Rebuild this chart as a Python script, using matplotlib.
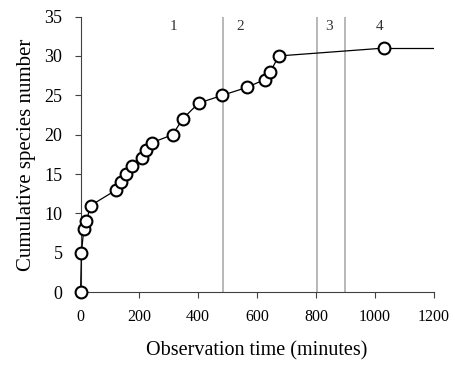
import matplotlib
matplotlib.use("Agg")
import matplotlib.pyplot as plt

# observation time (minutes) vs cumulative species
time_min = [0, 3, 11, 20, 34, 122, 136, 156, 176, 210, 224, 244, 313, 347, 401,
            482, 565, 626, 645, 674, 1033]
species = [0, 5, 8, 9, 11, 13, 14, 15, 16, 17, 18, 19, 20, 22, 24,
           25, 26, 27, 28, 30, 31]
line_end = 1200

# period boundaries and labels
boundaries = [485, 805, 900]
period_labels = ["1", "2", "3", "4"]
period_x = [316, 541, 843, 1017]

plt.rcParams["font.family"] = ["Liberation Serif", "DejaVu Serif"]

fig = plt.figure(figsize=(4.55, 3.68), dpi=100)
ax = fig.add_axes([0.177, 0.206, 0.776, 0.749])

for b in boundaries:
    ax.axvline(b, color="#ababab", lw=1.2, zorder=1)

ax.plot([time_min[-1], line_end], [species[-1], species[-1]], color="black", lw=0.9, zorder=2)
ax.plot(time_min, species, color="black", lw=0.9, marker="o", ms=8.5,
        mfc="white", mec="black", mew=1.5, zorder=3, clip_on=False)

for lab, xp in zip(period_labels, period_x):
    ax.text(xp, 33.7, lab, ha="center", va="center", fontsize=11, color="#333333")

ax.set_xlim(0, 1200)
ax.set_ylim(0, 35)
ax.set_xticks(range(0, 1201, 200))
ax.set_yticks(range(0, 36, 5))
ax.spines["top"].set_visible(False)
ax.spines["right"].set_visible(False)
ax.spines["left"].set_color("#404040")
ax.spines["bottom"].set_color("#404040")
ax.tick_params(direction="out", length=4, color="#404040")
ax.tick_params(axis="x", labelsize=11.5, pad=8)
ax.tick_params(axis="y", labelsize=13, pad=9)
ax.set_xlabel("Observation time (minutes)", fontsize=14.5, labelpad=12)
ax.set_ylabel("Cumulative species number", fontsize=15, labelpad=6)

fig.savefig("out.png", dpi=100)
